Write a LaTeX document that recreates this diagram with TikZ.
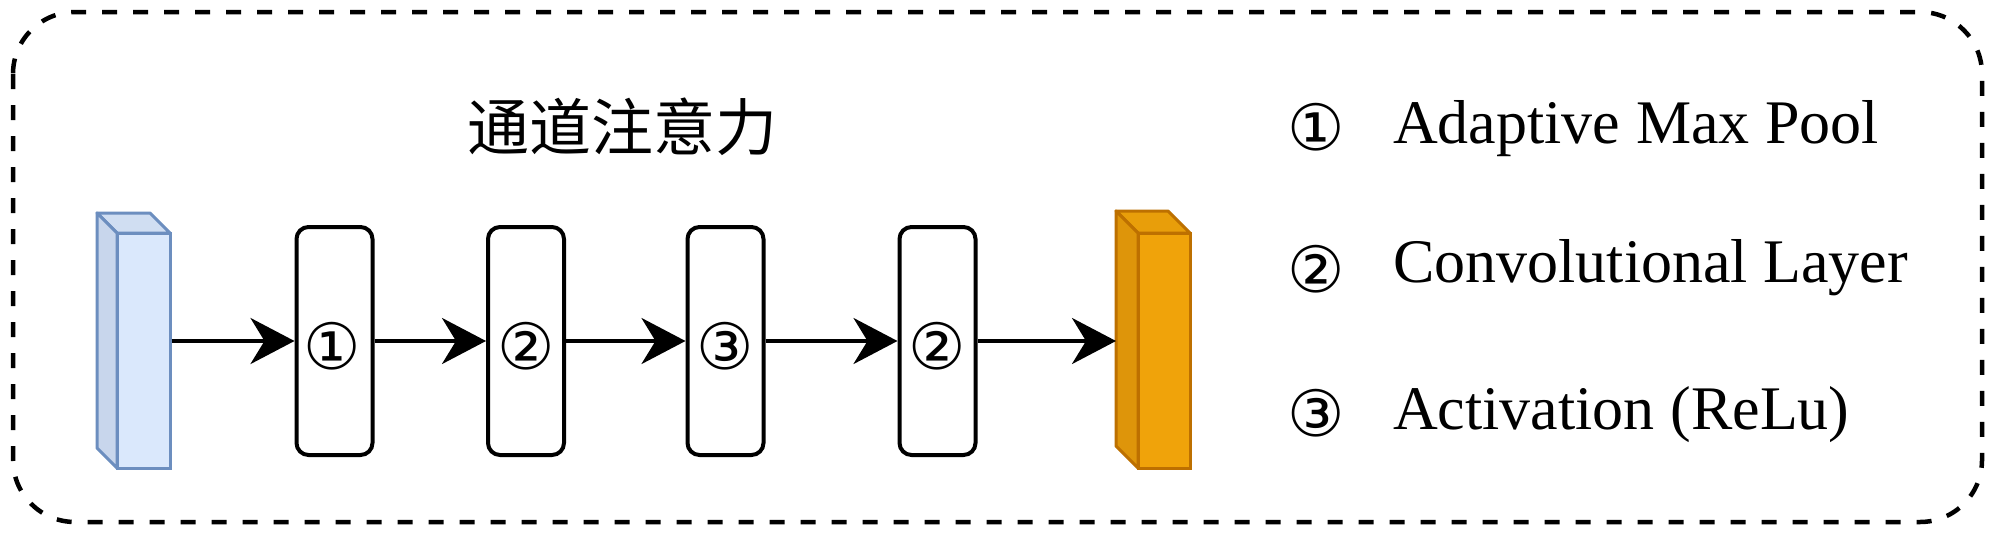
\documentclass[tikz,border=0pt]{standalone}
\usepackage{fontspec}
\setmainfont{Liberation Serif}
\newfontfamily\cjk{Noto Sans CJK SC}
\newfontfamily\symf{DejaVu Sans}
\usetikzlibrary{arrows.meta}
\definecolor{bluefill}{HTML}{DAE8FC}
\definecolor{blueside}{HTML}{C8D6EC}
\definecolor{bluetop}{HTML}{D0DEF2}
\definecolor{bluestroke}{HTML}{6C8EBF}
\definecolor{orfill}{HTML}{F0A30A}
\definecolor{orside}{HTML}{DE950A}
\definecolor{ortop}{HTML}{E89E0A}
\definecolor{orstroke}{HTML}{BD7000}
\tikzset{
  stage/.style={draw=black, line width=4pt, rounded corners=12pt, minimum width=76pt, minimum height=228pt, inner sep=0pt, font=\symf\fontsize{64}{70}\selectfont},
  flow/.style={line width=4pt, -{Stealth[length=44pt, width=46pt, inset=14pt]}},
  legnum/.style={inner sep=0pt, font=\symf\fontsize{64}{70}\selectfont},
  legtext/.style={anchor=base west, inner sep=0pt, font=\fontsize{62}{70}\selectfont},
  frame/.style={line width=4.5pt, dash pattern=on 15pt off 16pt, rounded corners=62pt}
}
\begin{document}
\begin{tikzpicture}[x=1pt, y=-1pt]
\useasboundingbox (0,0) rectangle (1999,533);
\fill[white] (0,0) rectangle (1999,533);
\draw[frame] (13,12) rectangle (1982,522);

% title
\node[inner sep=0pt, font=\cjk\fontsize{62}{70}\selectfont] (title) at (622,127) {通道注意力};

% blue cuboid
\fill[bluetop, draw=bluestroke, line width=3pt, line join=round] (97,213) -- (150,213) -- (170,233) -- (117,233) -- cycle;
\fill[blueside, draw=bluestroke, line width=3pt, line join=round] (97,213) -- (117,233) -- (117,468) -- (97,448) -- cycle;
\node[draw=bluestroke, fill=bluefill, line width=3pt, minimum width=53pt, minimum height=235pt, inner sep=0pt] (inp) at (143.5,350.5) {};

% orange cuboid
\fill[ortop, draw=orstroke, line width=3pt, line join=round] (1116,211) -- (1168,211) -- (1190,233) -- (1138,233) -- cycle;
\fill[orside, draw=orstroke, line width=3pt, line join=round] (1116,211) -- (1138,233) -- (1138,468) -- (1116,446) -- cycle;
\node[draw=orstroke, fill=orfill, line width=3pt, minimum width=52pt, minimum height=235pt, inner sep=0pt] (out) at (1164,350.5) {};
\coordinate (outin) at (1116,341);

% stages
\node[stage] (s1) at (334.5,341) {};
\node[stage] (s2) at (526,341) {};
\node[stage] (s3) at (725.5,341) {};
\node[stage] (s4) at (937.5,341) {};
\node[legnum] (d1) at (332,346) {①};
\node[legnum] (d2) at (526,346) {②};
\node[legnum] (d3) at (725.5,346) {③};
\node[legnum] (d4) at (937.5,346) {②};

% connectors
\draw[flow] (inp.east |- s1.west) -- (s1.west);
\draw[flow] (s1.east) -- (s2.west);
\draw[flow] (s2.east) -- (s3.west);
\draw[flow] (s3.east) -- (s4.west);
\draw[flow] (s4.east) -- (outin);

% legend
\node[legnum] (n1) at (1316,127) {①};
\node[legnum] (n2) at (1316,269) {②};
\node[legnum] (n3) at (1316,413) {③};
\node[legtext] (l1) at (1393,143) {Adaptive Max Pool};
\node[legtext] (l2) at (1393,282) {Convolutional Layer};
\node[legtext] (l3) at (1393,429) {Activation (ReLu)};
\end{tikzpicture}
\end{document}
